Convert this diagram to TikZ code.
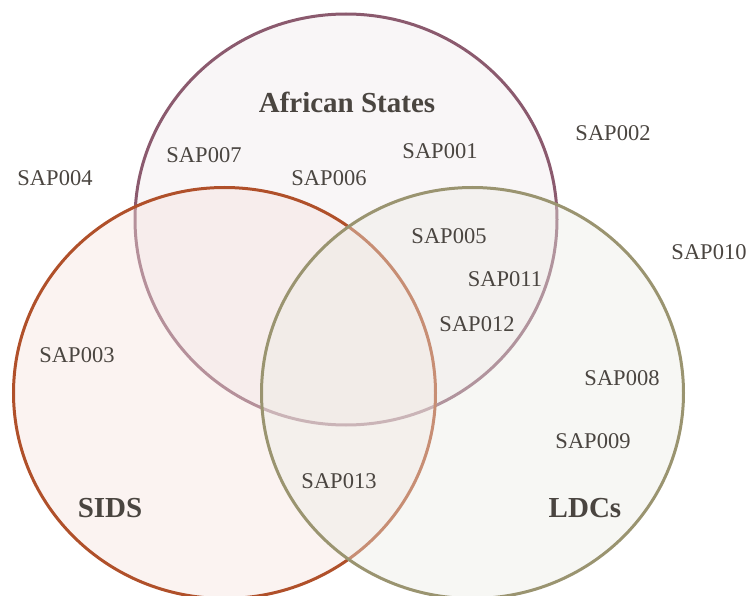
\documentclass[tikz,border=0pt]{standalone}
\usepackage{fontspec}
\setmainfont{Liberation Serif}
\usetikzlibrary{positioning, shapes.geometric}
\definecolor{AfricaMauve}{RGB}{139, 90, 110}
\definecolor{SidsRust}{RGB}{176, 80, 42}
\definecolor{LdcOlive}{RGB}{154, 148, 112}
\definecolor{LabelGray}{RGB}{74, 69, 64}
\tikzset{
    setcircle/.style={ellipse, inner sep=0pt, minimum width=422pt, minimum height=411pt,
                      line width=3pt, fill opacity=0.4, draw opacity=1},
    settitle/.style={font=\fontsize{29}{32}\selectfont\bfseries, text=LabelGray},
    member/.style={font=\fontsize{22.5}{26}\selectfont, text=LabelGray}
}

\begin{document}
\begin{tikzpicture}[x=1pt, y=-1pt]
    \useasboundingbox (0,0) rectangle (753,596);
    \clip (0,0) rectangle (753,596);

    % Three overlapping sets, drawn in order so later fills veil earlier rims
    \node[setcircle, draw=AfricaMauve, fill={rgb,255:red,240;green,232;blue,236}] (afr) at (346, 219.5) {};
    \node[setcircle, draw=SidsRust, fill={rgb,255:red,245;green,225;blue,220}] (sids) at (224.5, 393) {};
    \node[setcircle, draw=LdcOlive, fill={rgb,255:red,235;green,235;blue,228}] (ldc) at (472.5, 393) {};

    % Set titles
    \node[settitle] (tafr) at (347, 102) {African States};
    \node[settitle] (tsids) at (110, 508) {SIDS};
    \node[settitle] (tldc) at (585, 508) {LDCs};

    % Members placed in their regions
    \foreach \x/\y/\id in {440/151/001, 613/133/002, 77/355/003, 55/178/004,
                           449/236/005, 329/178/006, 204/155/007, 622/378/008,
                           593/441/009, 709/252/010, 505/279/011, 477/324/012,
                           339/481/013} {
        \node[member] (sap\id) at (\x, \y) {SAP\id};
    }
\end{tikzpicture}
\end{document}
